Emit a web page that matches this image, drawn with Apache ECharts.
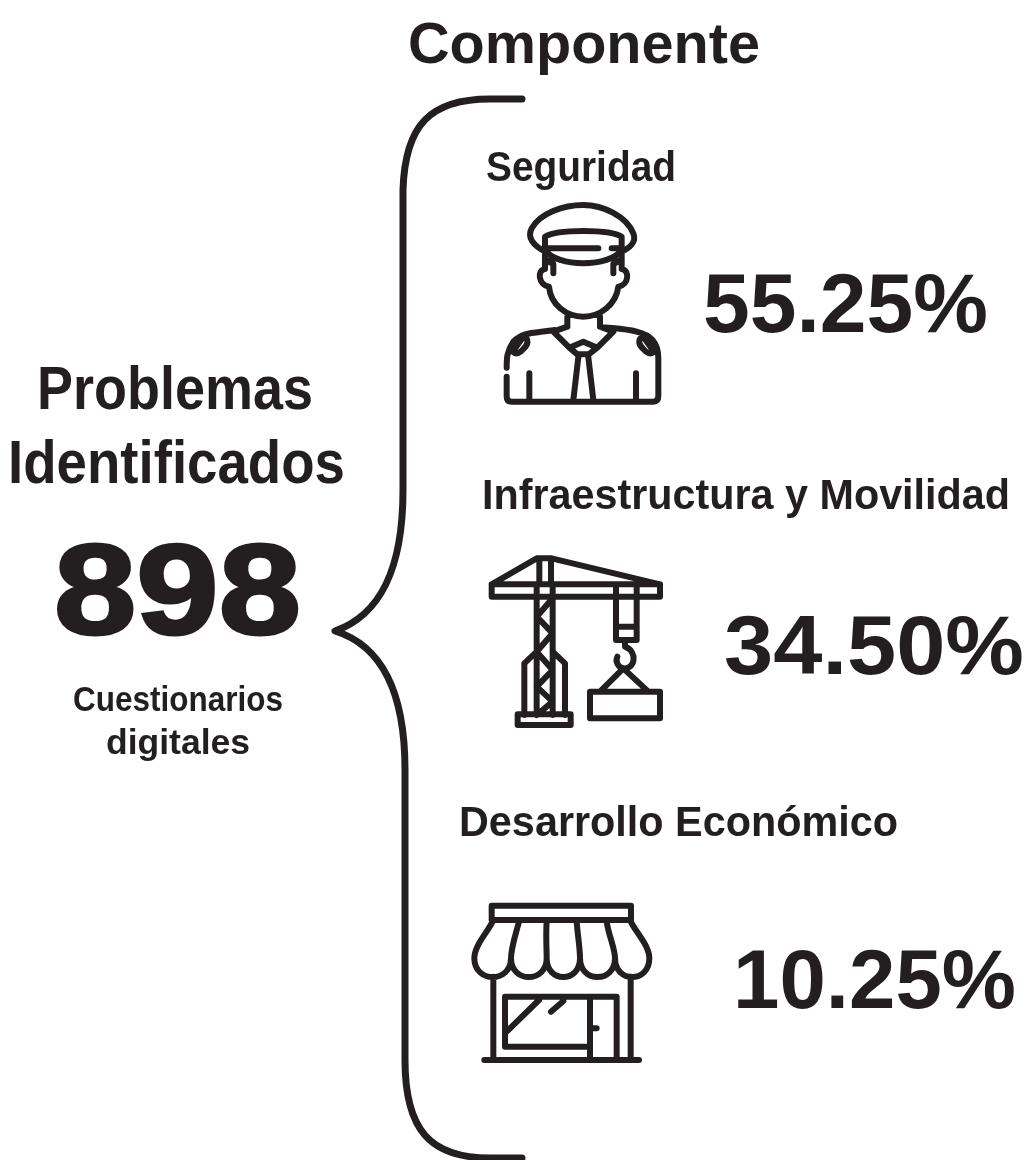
<!DOCTYPE html>
<html>
<head>
<meta charset="utf-8">
<title>Problemas Identificados</title>
<script src="https://cdn.jsdelivr.net/npm/echarts@6/dist/echarts.min.js"></script>
<style>
html, body { margin: 0; padding: 0; background: #fff; }
#main { width: 1029px; height: 1160px; }
</style>
</head>
<body>
<div id="main"></div>
<script>
var headerLabel = 'Componente';
var problemLines = ['Problemas', 'Identificados'];
var totalCount = '898';
var sourceLines = ['Cuestionarios', 'digitales'];
var componentNames = ['Seguridad', 'Infraestructura y Movilidad', 'Desarrollo Económico'];
var componentShares = [55.25, 34.50, 10.25];

var INK = '#231f20';
var FAMILY = '"Liberation Sans", Arial, sans-serif';

// icon outlines, drawn on a 3x grid
var guardIcon = [
	'M170,172 C125,150 112,125 125,100 C150,55 220,30 280,30 C340,30 410,65 430,115 C440,140 420,160 390,172',
	'M165,165 C200,218 360,218 395,165',
	'M165,165 L165,125 C200,102 360,102 395,125 L395,165',
	'M165,160 H325 M365,160 H395',
	'M165,165 V222 C140,225 145,270 177,275 C182,330 230,365 280,365 C330,365 378,330 385,275 C417,270 420,225 395,222 V165',
	'M168,195 L190,207 V235 M392,195 L370,207 V235',
	'M232,365 V395 M330,365 V395',
	'M195,405 C130,415 100,410 70,440 C50,470 50,490 50,518',
	'M50,545 V605 Q50,620 65,620 H490 Q505,620 505,603 V490 C505,440 480,420 440,410 C400,400 360,400 330,395',
	'M232,395 L190,410 L238,458 L280,440 L322,458 L370,410 L330,395',
	'M238,458 L262,478 H296 L322,458',
	'M266,478 L250,615 M294,478 L310,615',
	'M118,535 V615 M438,535 V615',
	'M68,470 L100,425 C118,432 115,448 100,462 C90,475 78,480 68,470',
	'M492,470 L460,425 C442,432 445,448 460,462 C470,475 482,480 492,470'
];
var craneIcon = [
	'M35,118 H540 V155 H35 Z',
	'M35,118 L170,40 H215 L540,118',
	'M178,40 V118 M213,40 V118',
	'M170,118 V510 M218,118 V510',
	'M218,160 L170,215 L218,265 L170,320 L218,375 L170,425 L218,470 L170,510',
	'M170,320 L133,355 V510 M218,320 L255,355 V510',
	'M113,508 H272 V540 H113 Z',
	'M408,118 V285 H470 V118 M408,245 H470',
	'M435,285 V305 C475,320 465,375 430,370 C415,368 405,350 412,335',
	'M430,370 L360,440 M430,370 L505,440',
	'M330,440 H540 V520 H330 Z'
];
var storeIcon = [
	'M80,32 H498 V75 H80 Z',
	'M85,75 C70,110 28,150 28,190 C28,265 138,265 138,190 C138,265 245,265 245,190 C245,265 345,265 345,190 C345,265 450,265 450,190 C450,265 553,265 553,190 C553,150 510,110 495,75',
	'M162,80 C150,125 138,160 138,190 M245,80 C242,120 245,160 245,190 M335,80 C338,120 345,160 345,190 M425,80 C432,125 450,160 450,190',
	'M85,245 V490 M497,245 V490',
	'M58,495 H522',
	'M375,455 H120 V305 H455 V490 M375,305 V490',
	'M380,400 H395',
	'M125,410 L222,315 M258,350 L295,318'
];
var bracePath = 'M522,99 H490 C430,99 405,125 403,190 V490 C403,570 380,615 335,631 C380,645 405,690 405,770 V1060 C405,1130 430,1158 490,1158 H522';

var ctx = document.createElement('canvas').getContext('2d');

// text squeezed to the width it has in the picture
const label = (str, left, baseline, size, width, heavy) => {
	var font = 'bold ' + size + 'px ' + FAMILY;
	ctx.font = font;
	return {
		type: 'text',
		x: left,
		y: baseline - 0.34 * size,
		scaleX: width / ctx.measureText(str).width,
		style: {
			text: str, x: 0, y: 0, font: font, fill: INK,
			stroke: heavy ? INK : null, lineWidth: heavy || 0,
			textAlign: 'left', textVerticalAlign: 'middle'
		}
	};
};
const pct = (v) => v.toFixed(2) + '%';

var elements = [
	label(headerLabel, 408, 67, 58, 352),
	label(problemLines[0], 37, 413, 62, 276),
	label(problemLines[1], 8, 487, 62, 337),
	label(totalCount, 54, 642, 128, 247, 3),
	label(sourceLines[0], 73, 713, 35, 210),
	label(sourceLines[1], 106, 756, 35, 144),
	label(componentNames[0], 486, 184, 43, 190),
	label(componentNames[1], 482, 512, 43, 528),
	label(componentNames[2], 459, 839, 43, 439),
	label(pct(componentShares[0]), 703, 337, 84, 285),
	label(pct(componentShares[1]), 724, 679, 84, 300),
	label(pct(componentShares[2]), 733, 1013, 84, 283)
];

// outline pieces: [path, x, y, scale, line width]
var pieces = [
	[[bracePath], 0, 0, 1, 7],
	[guardIcon, 490, 195, 1 / 3, 18],
	[craneIcon, 480, 545, 1 / 3, 18],
	[storeIcon, 465, 895, 1 / 3, 18]
];

var chartDom = document.getElementById('main');
var myChart = echarts.init(chartDom, null, { devicePixelRatio: 1 });
var option = {
	backgroundColor: '#ffffff',
	animation: false,
	graphic: { elements: elements },
	series: [
		{
			type: 'custom',
			coordinateSystem: 'none',
			silent: true,
			data: pieces.map((p, i) => i),
			renderItem: (params) => {
				var p = pieces[params.dataIndex];
				return {
					type: 'path',
					x: p[1],
					y: p[2],
					scaleX: p[3],
					scaleY: p[3],
					shape: { pathData: p[0].join(' ') },
					style: { fill: null, stroke: INK, lineWidth: p[4], lineJoin: 'round', lineCap: 'round' }
				};
			}
		}
	]
};
option && myChart.setOption(option);
</script>
</body>
</html>
